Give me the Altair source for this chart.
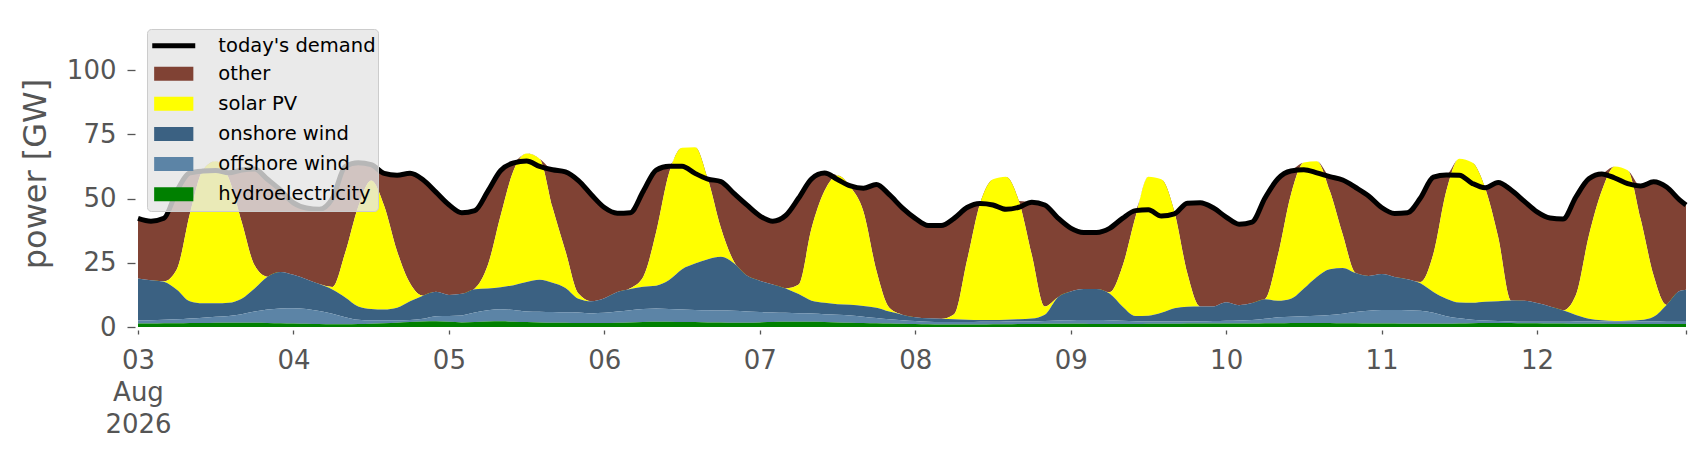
import altair as alt
import pandas as pd

# ---- time axis: every 2 hours from 2026-08-03 00:00, last point at 2026-08-12 23:00
hours = list(range(0, 240, 2)) + [239]

# ---- values (GW)
demand = [
    42.3, 41.2, 42.3, 53.0, 60.0, 60.7, 60.9, 60.0, 61.1, 61.5, 57.5, 53.3,
    48.3, 46.3, 45.8, 50.0, 62.5, 63.9, 63.2, 59.8, 59.1, 59.8, 57.3, 52.5,
    47.6, 44.5, 45.3, 52.8, 60.9, 63.9, 64.6, 62.5, 61.2, 60.4, 57.0, 51.5,
    46.5, 44.3, 44.5, 52.8, 61.1, 62.6, 62.6, 59.8, 57.6, 56.6, 52.0, 47.5,
    43.3, 41.2, 43.4, 50.2, 57.7, 59.9, 57.4, 54.9, 54.0, 55.5, 51.5, 46.4,
    42.3, 39.5, 39.5, 42.3, 46.5, 48.1, 47.5, 45.8, 46.6, 48.6, 47.5, 42.5,
    38.5, 36.8, 36.8, 38.4, 42.3, 45.3, 45.6, 43.2, 44.0, 48.2, 48.4, 46.4,
    42.8, 40.0, 40.8, 50.2, 57.7, 60.7, 61.2, 60.0, 58.5, 57.2, 54.3, 51.0,
    46.5, 44.2, 44.5, 50.2, 58.3, 59.2, 59.1, 55.9, 54.2, 56.2, 53.3, 49.0,
    44.8, 42.4, 42.0, 50.6, 57.7, 59.6, 58.0, 55.8, 54.9, 56.5, 54.5, 49.5, 47.5,
]

hydro = [
    1.4, 1.4, 1.5, 1.5, 1.6, 1.6, 1.7, 1.7, 1.7, 1.7, 1.6, 1.5,
    1.4, 1.3, 1.2, 1.1, 1.1, 1.2, 1.3, 1.5, 1.7, 1.9, 2.1, 2.2,
    2.0, 1.8, 1.9, 2.1, 2.2, 2.0, 1.9, 1.8, 1.7, 1.7, 1.6, 1.6,
    1.6, 1.7, 1.8, 1.9, 2.0, 2.0, 1.9, 1.9, 1.8, 1.8, 1.7, 1.7,
    1.8, 1.9, 2.0, 2.0, 2.0, 1.9, 1.8, 1.7, 1.6, 1.5, 1.4, 1.3,
    1.2, 1.1, 1.0, 1.0, 1.0, 1.0, 1.1, 1.1, 1.2, 1.2, 1.3, 1.3,
    1.3, 1.3, 1.2, 1.2, 1.2, 1.2, 1.3, 1.3, 1.3, 1.4, 1.4, 1.4,
    1.4, 1.4, 1.4, 1.5, 1.5, 1.6, 1.6, 1.6, 1.6, 1.5, 1.5, 1.4,
    1.4, 1.4, 1.3, 1.3, 1.3, 1.3, 1.4, 1.5, 1.6, 1.6, 1.6, 1.5,
    1.5, 1.4, 1.4, 1.3, 1.3, 1.3, 1.2, 1.2, 1.2, 1.2, 1.2, 1.2, 1.2,
]

offshore = [
    1.1, 1.2, 1.3, 1.5, 1.7, 2.0, 2.3, 2.6, 3.3, 4.3, 5.2, 5.7,
    5.9, 5.7, 5.0, 4.1, 2.7, 1.6, 1.3, 1.1, 0.9, 0.8, 1.1, 2.0,
    2.3, 2.7, 3.7, 4.4, 4.7, 4.6, 4.1, 4.1, 4.1, 4.0, 4.0, 3.7,
    3.9, 4.3, 4.7, 5.1, 5.2, 5.0, 4.9, 4.7, 4.7, 4.6, 4.6, 4.3,
    4.0, 3.7, 3.5, 3.4, 3.3, 3.1, 3.0, 2.8, 2.4, 2.0, 1.6, 1.3,
    1.1, 0.9, 0.9, 0.9, 0.9, 1.0, 0.9, 1.0, 0.9, 1.0, 1.0, 1.2,
    1.3, 1.4, 1.5, 1.4, 1.2, 1.0, 0.8, 0.8, 0.8, 0.7, 0.8, 0.9,
    1.0, 1.1, 1.3, 1.7, 2.3, 2.4, 2.6, 2.8, 3.1, 3.7, 4.3, 4.9,
    5.2, 5.2, 5.2, 5.0, 4.2, 2.9, 2.0, 1.3, 0.9, 0.7, 0.5, 0.5,
    0.5, 0.6, 0.6, 0.8, 0.8, 0.8, 0.9, 1.0, 1.0, 1.0, 1.1, 1.1, 1.1,
]

onshore = [
    16.4, 15.6, 14.8, 11.5, 6.7, 5.6, 5.2, 5.1, 6.0, 9.0, 12.8, 14.2,
    13.0, 11.6, 10.5, 9.4, 7.7, 5.2, 4.4, 4.2, 4.9, 7.3, 9.0, 9.5,
    8.2, 8.4, 9.1, 8.5, 8.6, 9.7, 11.5, 12.5, 11.4, 9.5, 5.4, 4.7,
    5.7, 7.6, 8.3, 8.7, 8.9, 11.3, 15.7, 18.1, 19.9, 20.9, 18.5, 14.0,
    12.2, 10.9, 9.5, 7.4, 4.9, 4.4, 4.1, 4.2, 4.2, 4.0, 3.0, 2.2,
    1.5, 1.4, 1.3, 1.1, 0.9, 0.7, 0.7, 0.7, 0.9, 1.1, 2.5, 9.0,
    11.2, 12.1, 12.1, 10.4, 5.6, 2.1, 2.3, 3.4, 5.2, 5.8, 5.8, 5.7,
    7.2, 6.0, 6.6, 7.6, 6.4, 7.0, 10.8, 15.1, 17.8, 17.8, 15.2, 13.6,
    14.0, 12.9, 12.1, 10.7, 8.1, 6.8, 6.1, 6.6, 7.3, 7.7, 8.2, 8.2,
    7.3, 6.0, 4.5, 2.6, 1.1, 0.5, 0.2, 0.2, 0.5, 1.8, 6.3, 11.7, 12.2,
]

solar = [
    0, 0, 0.2, 8.0, 34.0, 51.8, 55.3, 48.6, 30.0, 9.0, 0, 0,
    0, 0, 0, 1.0, 17.5, 38.8, 50.0, 40.4, 22.0, 7.0, 0, 0,
    0, 0, 0.3, 9.0, 28.0, 44.7, 50.0, 47.1, 29.3, 14.3, 2.0, 0,
    0, 0, 0.3, 3.8, 20.9, 41.7, 47.3, 45.3, 31.1, 11.2, 0.7, 0,
    0, 0, 0, 3.7, 28.3, 43.6, 50.1, 45.8, 36.8, 14.5, 1.5, 0,
    0, 0, 0, 2.0, 23.2, 45.3, 54.8, 55.7, 46.0, 24.7, 3.2, 0,
    0, 0, 0, 0.5, 15.6, 38.5, 54.1, 52.0, 37.7, 13.1, 0, 0,
    0, 0, 0, 0, 17.8, 40.5, 49.0, 45.0, 30.5, 13.0, 0, 0,
    0, 0, 0, 0.5, 14.9, 42.0, 56.0, 54.6, 44.2, 25.0, 0, 0,
    0, 0, 0, 7.8, 32.3, 50.4, 60.2, 58.6, 39.3, 16.0, 0, 0, 0,
]

other = [
    23.4, 23.0, 24.5, 30.5, 16.0, 0, 0, 2.0, 20.1, 37.5, 37.9, 31.9,
    28.0, 27.7, 29.1, 34.4, 33.5, 17.1, 6.2, 12.6, 29.6, 42.8, 45.1, 38.8,
    35.1, 31.6, 30.3, 28.8, 17.4, 2.9, 0, 0, 14.7, 30.9, 44.0, 41.5,
    35.3, 30.7, 29.4, 33.3, 24.1, 2.6, 0, 0, 0.1, 18.1, 26.5, 27.5,
    25.3, 24.7, 28.4, 33.7, 19.2, 6.9, 0, 0.4, 9.0, 33.5, 44.0, 41.6,
    38.5, 36.1, 36.3, 37.3, 20.5, 0.1, 0, 0, 0, 20.6, 39.5, 31.0,
    24.7, 22.0, 22.0, 24.9, 18.7, 2.5, 0, 0, 0, 27.2, 40.4, 38.4,
    33.2, 31.5, 31.5, 39.4, 29.7, 9.2, 0, 0, 5.5, 21.2, 33.3, 31.1,
    25.9, 24.7, 25.9, 32.7, 29.8, 6.2, 0, 0, 0.2, 21.2, 43.0, 38.8,
    35.5, 34.4, 35.5, 38.1, 22.2, 6.6, 0, 0, 12.9, 36.5, 45.9, 35.5, 33.0,
]

series_names = ["other", "solar PV", "onshore wind", "offshore wind", "hydroelectricity"]
series_colors = ["#804234", "#ffff00", "#3b6182", "#5c84a6", "#008000"]
stack_rank = {"hydroelectricity": 0, "offshore wind": 1, "onshore wind": 2,
              "solar PV": 3, "other": 4}
series_values = {"other": other, "solar PV": solar, "onshore wind": onshore,
                 "offshore wind": offshore, "hydroelectricity": hydro}
tick_days = [3, 4, 5, 6, 7, 8, 9, 10, 11, 12]
demand_label = "today's demand"

for vals in list(series_values.values()) + [demand]:
    assert len(vals) == len(hours)

start = pd.Timestamp("2026-08-03 00:00:00")
times = [start + pd.Timedelta(hours=h) for h in hours]

rows = []
for name, vals in series_values.items():
    for t, v in zip(times, vals):
        rows.append({"time": t, "series": name, "value": v, "rank": stack_rank[name]})
df_gen = pd.DataFrame(rows)
df_dem = pd.DataFrame({"time": times, "demand": demand, "label": demand_label})

FONT = "DejaVu Sans"
GREY = "#555555"

tick_values = [alt.DateTime(year=2026, month=8, date=d) for d in tick_days] + [
    alt.DateTime(year=2026, month=8, date=12, hours=23)]

x_scale = alt.Scale(domain=[alt.DateTime(year=2026, month=8, date=3, hours=0),
                            alt.DateTime(year=2026, month=8, date=12, hours=23)])
x_axis = alt.Axis(
    values=tick_values,
    labelExpr="hours(datum.value) == 23 ? '' : (date(datum.value) == 3 ? "
              "[timeFormat(datum.value, '%d'), timeFormat(datum.value, '%b'), timeFormat(datum.value, '%Y')]"
              " : timeFormat(datum.value, '%d'))",
    title=None, domain=False, grid=False, tickSize=4, tickWidth=1.3, tickColor=GREY,
    offset=3, labelFontSize=26, labelColor=GREY, labelFont=FONT, labelPadding=13,
    labelFlush=False, labelOverlap=False, labelLineHeight=32, labelAlign="center",
    labelBaseline="top",
)
y_scale = alt.Scale(domain=[0, 119.5], nice=False, zero=True)
y_axis = alt.Axis(
    values=[0, 25, 50, 75, 100], title="power [GW]", titleFontSize=32,
    titleFontWeight="normal", titleColor=GREY, titlePadding=14, titleFont=FONT,
    domain=False, grid=False, tickSize=8, tickWidth=1.3, tickColor=GREY, offset=3,
    labelFontSize=26, labelColor=GREY, labelPadding=11, labelFont=FONT,
)

# Area legend: an empty (non-breaking space) title reserves the first row,
# where the line legend (no background) is drawn on top.
legend_fill = alt.Legend(
    orient="none", legendX=9, legendY=9,
    title="\u00a0", titleFontSize=19.5, titleFont=FONT,
    titleFontWeight="normal", titlePadding=8.5,
    fillColor="rgba(229,229,229,0.8)", strokeColor="#cccccc", cornerRadius=4, padding=7,
    symbolType="M-2.8,-1H2.8V1H-2.8Z", symbolSize=196, symbolStrokeWidth=0,
    symbolOffset=10, symbolOpacity=1,
    labelOffset=34.8, labelFontSize=19.5, labelFont=FONT, labelColor="#000000",
    rowPadding=9.1,
)
legend_stroke = alt.Legend(
    orient="none", legendX=9, legendY=9, title=None, padding=7,
    symbolType="M-4.3,0H4.3", symbolSize=100, symbolStrokeWidth=5, symbolOffset=10,
    labelOffset=34.8, labelFontSize=19.5, labelFont=FONT, labelColor="#000000",
)

areas = alt.Chart(df_gen).mark_area(interpolate="monotone", opacity=1).encode(
    x=alt.X("time:T", scale=x_scale, axis=x_axis),
    y=alt.Y("value:Q", stack="zero", scale=y_scale, axis=y_axis),
    fill=alt.Fill("series:N", scale=alt.Scale(domain=series_names, range=series_colors),
                  legend=legend_fill),
    order=alt.Order("rank:Q", sort="ascending"),
)

line = alt.Chart(df_dem).mark_line(interpolate="monotone", strokeWidth=5,
                                   strokeJoin="round").encode(
    x=alt.X("time:T", scale=x_scale, axis=x_axis),
    y=alt.Y("demand:Q", scale=y_scale, axis=y_axis),
    stroke=alt.Stroke("label:N", scale=alt.Scale(domain=[demand_label], range=["#000000"]),
                      legend=legend_stroke),
)

chart = alt.layer(areas, line).properties(
    width=1548, height=307,
    padding={"left": 130, "top": 12, "right": 10, "bottom": 120},
    autosize=alt.AutoSizeParams(type="none"),
).configure(background="white", font=FONT).configure_view(strokeWidth=0)

chart.save("out.html", embed_options={"renderer": "svg", "actions": False})
